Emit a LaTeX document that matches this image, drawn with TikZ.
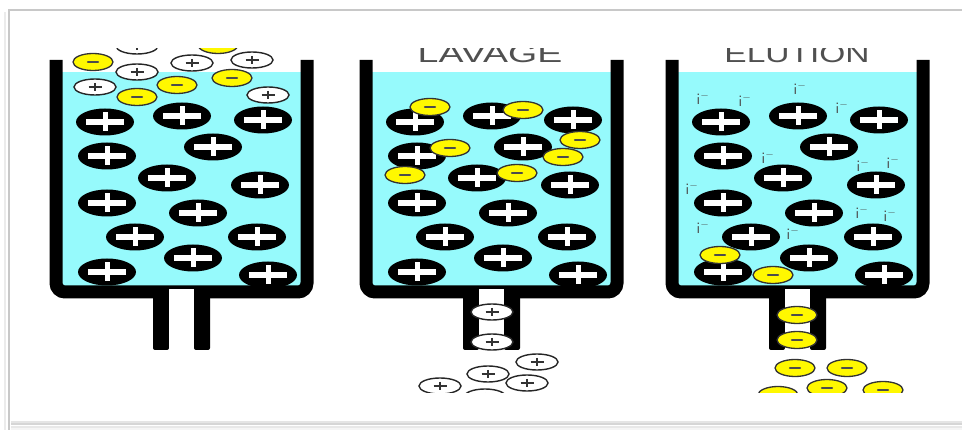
\documentclass[tikz,border=0pt]{standalone}
\usepackage{fontspec}
\usepackage{graphicx}
\newfontfamily\titlefont{Liberation Sans}
\definecolor{gel}{RGB}{150,250,252}
\definecolor{anionyellow}{RGB}{255,248,0}
\definecolor{framegray}{RGB}{200,200,200}
\definecolor{labelgray}{RGB}{80,80,80}

\tikzset{
  wall/.style={line width=13pt, rounded corners=9pt},
  tubewall/.style={fill=black, rounded corners=2pt},
  title/.style={font=\titlefont\fontsize{25}{25}\selectfont, text=labelgray, anchor=base, inner sep=0pt},
  ionlabel/.style={font=\fontsize{16}{16}\selectfont, text=black!70, inner sep=0pt},
  % fixed cation of the resin: black bead with a white plus
  bead/.pic={
    \fill[black] (0,0) ellipse [x radius=29pt, y radius=13.5pt];
    \fill[white] (-19,-2.7) rectangle (19,2.7);
    \fill[white] (-2.5,-9.5) rectangle (2.5,9.5);
  },
  % free cation: white ellipse with a thin plus
  cationfree/.pic={
    \filldraw[fill=white, draw=black!85, line width=1.4pt] (0,0) ellipse [x radius=21pt, y radius=8pt];
    \draw[black!80, line width=1.2pt] (-6.5,0) -- (6.5,0) (0,-4) -- (0,4);
  },
  % anion: yellow ellipse with a short dark dash
  anionmark/.pic={
    \filldraw[fill=anionyellow, draw=black!80, line width=1.3pt] (0,0) ellipse [x radius=20pt, y radius=8.5pt];
    \draw[black!70, line width=2.2pt, line cap=round] (-5,0) -- (5,0);
  }
}

\begin{document}
\begin{tikzpicture}[x=1pt, y=-1pt]
\useasboundingbox (0,0) rectangle (962,430);

% frame around the figure
\draw[framegray, line width=2pt] (9,430) -- (9,10) -- (962,10);
\draw[black!8, line width=1.5pt] (5,430) -- (5,12);
\draw[black!10, line width=2pt] (11,422) -- (962,422);
\draw[black!16, line width=2pt] (11,424.5) -- (962,424.5);
\draw[black!9, line width=2pt] (11,427) -- (962,427);
\draw[black!4, line width=2pt] (11,429.5) -- (962,429.5);

\begin{scope}
\clip (0,49) rectangle (962,393);

% three columns: gel, walls and outlet tube
\foreach \dx in {0,310,616} {
  \fill[gel] (\dx+60,72) rectangle (\dx+303,288);
  \draw[wall] (\dx+56,60) -- (\dx+56,292) -- (\dx+307,292) -- (\dx+307,60);
  \fill[tubewall] (\dx+153,288) rectangle (\dx+169,350);
  \fill[tubewall] (\dx+194,288) rectangle (\dx+210,350);
  \fill[white] (\dx+169,289) rectangle (\dx+194,350);
  \foreach \px/\py in {105/122, 182/116, 263/120, 107/156, 213/147,
                       167/178, 260/185, 107/203, 198/213, 135/237,
                       257/237, 193/258, 107/272, 268/275}
    \pic at (\dx+\px,\py) {bead};
}

% loading: free cations and anions entering the first column
\foreach \px/\py in {137/46, 137/72, 192/63, 252/60, 95/87, 268/95}
  \pic at (\px,\py) {cationfree};
\foreach \px/\py in {218/45, 93/62, 177/85, 232/78, 137/97}
  \pic at (\px,\py) {anionmark};

% washing: anions retained, free cations leave
\node[title] (lavage) at (490,63) {\scalebox{1.5}[1]{LAVAGE}};
\foreach \px/\py in {430/107, 523/110, 450/148, 580/140, 563/157, 405/175, 517/173}
  \pic at (\px,\py) {anionmark};
\foreach \px/\py in {492/312, 492/342, 537/362, 488/374, 527/383, 440/386, 485/397}
  \pic at (\px,\py) {cationfree};

% elution: iodide displaces the anions
\node[title] (elution) at (797,63) {\scalebox{1.34}[1]{ELUTION}};
\foreach \px/\py [count=\k] in {703/98, 745/100, 800/88, 842/107, 768/157, 863/165,
                     893/162, 692/188, 862/212, 890/215, 703/227, 793/233}
  \node[ionlabel] (iodide\k) at (\px,\py) {$\mathsf{i}^{-}$};
\foreach \px/\py in {720/255, 773/275, 797/315, 797/340, 795/368, 847/368,
                     827/388, 883/390, 778/395}
  \pic at (\px,\py) {anionmark};
\end{scope}
\end{tikzpicture}
\end{document}
